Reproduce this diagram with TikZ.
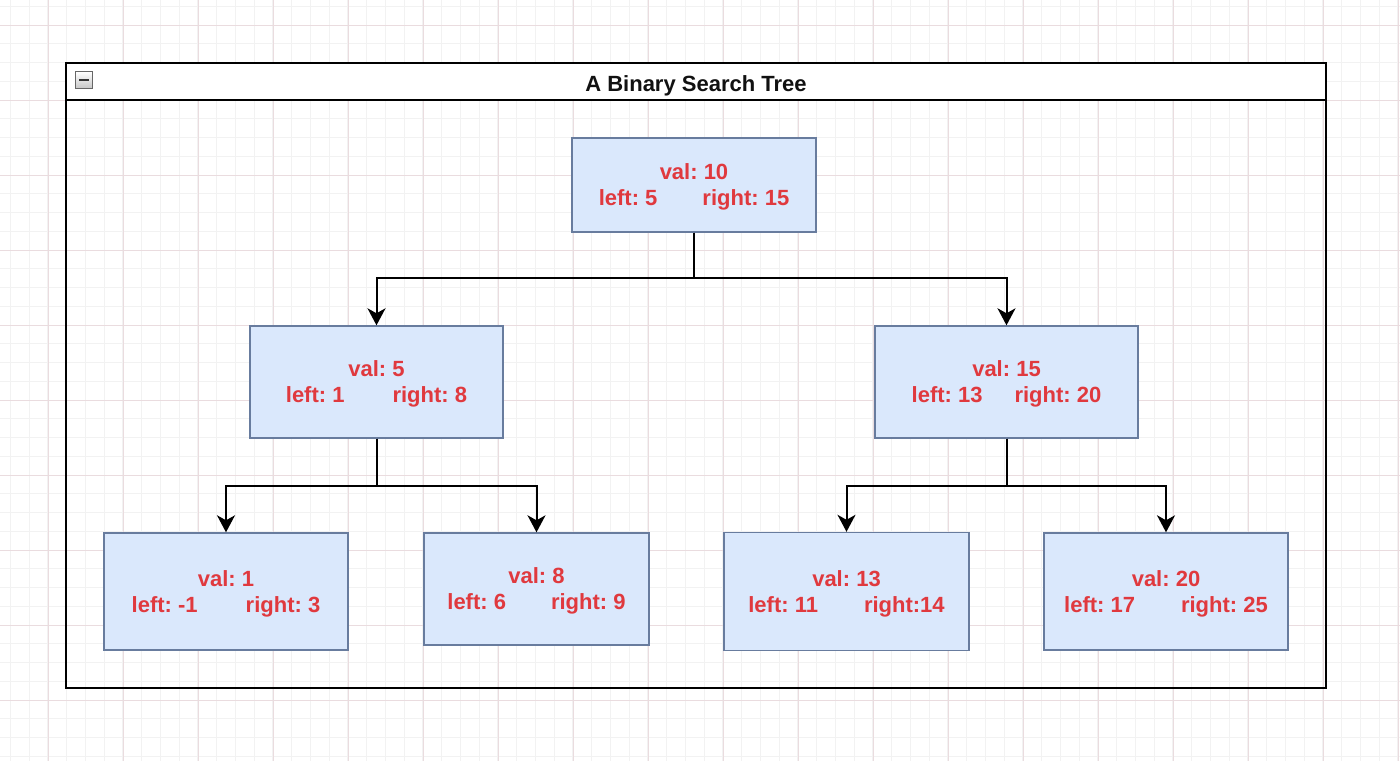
\documentclass[tikz,border=0pt]{standalone}
\usepackage{fontspec}
\setmainfont{Liberation Sans}
\usepackage{xcolor}
\usetikzlibrary{arrows.meta}
\definecolor{minorgray}{RGB}{242,242,242}
\definecolor{majorpink}{RGB}{234,220,223}
\definecolor{boxfill}{RGB}{218,232,252}
\definecolor{boxline}{RGB}{104,124,158}
\definecolor{valred}{RGB}{224,57,62}
\definecolor{titleblack}{RGB}{17,17,17}
\frenchspacing

\begin{document}
\begin{tikzpicture}[x=0.5pt, y=-0.5pt,
    bstnode/.style={draw=boxline, fill=boxfill, line width=0.7pt, inner sep=0pt,
        align=center, text=valred, text depth=0pt, font=\fontsize{11pt}{13pt}\selectfont\bfseries},
    edge/.style={line width=1pt, -{Stealth[length=8.5pt, width=9pt, inset=2.5pt]}}]
    \useasboundingbox (0,0) rectangle (1400,761);
    \fill[white] (0,0) rectangle (1400,761);
    % background grid
    \foreach \gx in {10.25,29,...,1400} \draw[minorgray, line width=0.5pt] (\gx,0) -- (\gx,761);
    \foreach \gy in {6.25,25,...,761} \draw[minorgray, line width=0.5pt] (0,\gy) -- (1400,\gy);
    \foreach \gx in {48,123,...,1400} \draw[majorpink, line width=0.5pt] (\gx,0) -- (\gx,761);
    \foreach \gy in {25,100,...,761} \draw[majorpink, line width=0.5pt] (0,\gy) -- (1400,\gy);

    % container with its header
    \fill[white] (66,63) rectangle (1326,100);
    \draw[line width=1pt] (66,63) rectangle (1326,688);
    \draw[line width=0.8pt] (66,100) -- (1326,100);
    \node[draw=gray!80!black, line width=0.5pt, top color=white, bottom color=gray!45,
        minimum size=8.5pt, inner sep=0pt] (fold) at (84,80) {};
    \draw[line width=1.2pt, black!80] ([xshift=-2.5pt]fold.center) -- ([xshift=2.5pt]fold.center);
    \node[text=titleblack, font=\fontsize{11pt}{13pt}\selectfont\bfseries] (title) at (696,85.5) {A Binary Search Tree};

    % tree nodes
    \node[bstnode, minimum width=122pt, minimum height=47pt] (n10) at (694,185)
        {val: 10\\left: 5\hspace{22.5pt}right: 15};
    \node[bstnode, minimum width=126.5pt, minimum height=56pt] (n5) at (376.5,382)
        {val: 5\\left: 1\hspace{24pt}right: 8};
    \node[bstnode, minimum width=131.5pt, minimum height=56pt] (n15) at (1006.5,382)
        {val: 15\\left: 13\hspace{16pt}right: 20};
    \node[bstnode, minimum width=122pt, minimum height=58.5pt] (n1) at (226,591.5)
        {val: 1\\left: -1\hspace{24pt}right: 3};
    \node[bstnode, minimum width=112.5pt, minimum height=56pt] (n8) at (536.5,589)
        {val: 8\\left: 6\hspace{22.5pt}right: 9};
    \node[bstnode, minimum width=122.5pt, minimum height=59pt] (n13) at (846.5,591.5)
        {val: 13\\left: 11\hspace{23pt}right:14};
    \node[bstnode, minimum width=122pt, minimum height=58.5pt] (n20) at (1166,591.5)
        {val: 20\\left: 17\hspace{23pt}right: 25};

    % edges
    \draw[edge] (n10.south) -- ++(0,45) -| (n5.north);
    \draw[edge] (n10.south) -- ++(0,45) -| (n15.north);
    \draw[edge] (n5.south) -- ++(0,47) -| (n1.north);
    \draw[edge] (n5.south) -- ++(0,47) -| (n8.north);
    \draw[edge] (n15.south) -- ++(0,47) -| (n13.north);
    \draw[edge] (n15.south) -- ++(0,47) -| (n20.north);
\end{tikzpicture}
\end{document}
